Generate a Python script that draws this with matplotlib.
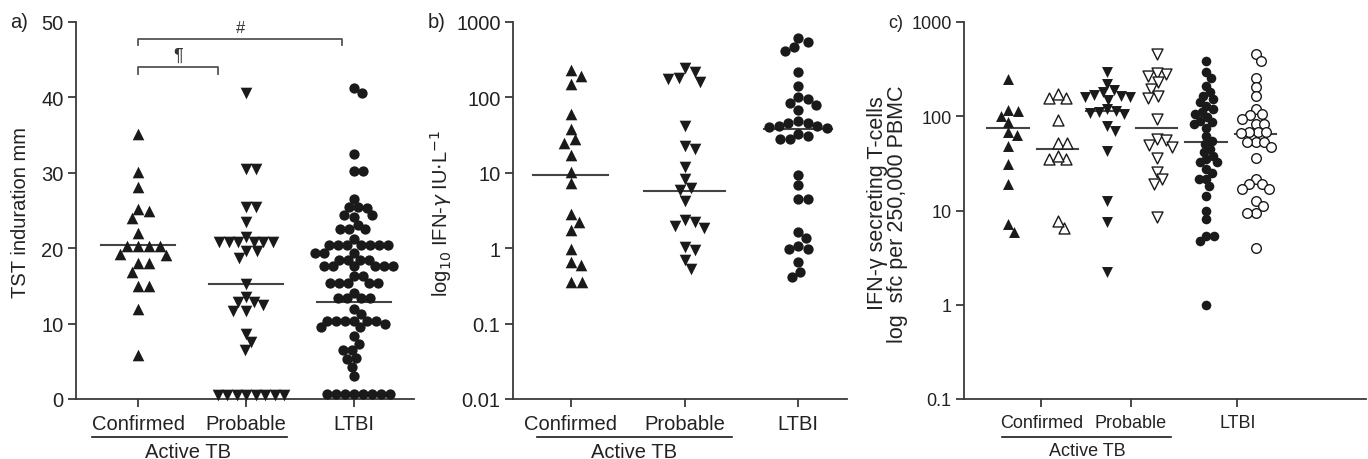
import numpy as np
import matplotlib
matplotlib.use("Agg")
import matplotlib.pyplot as plt
from matplotlib import font_manager
from matplotlib.ticker import FixedLocator, NullLocator

plt.rcParams['font.family'] = ['Liberation Sans', 'DejaVu Sans']

# panel c was squeezed sideways in the source figure -> narrow face if there is one
_names = {f.name for f in font_manager.fontManager.ttflist}
NARROW = 'Liberation Sans Narrow' if 'Liberation Sans Narrow' in _names else None

# ---- data ----
# a) TST induration (mm)
tst_confirmed = [35.2, 30.1, 28.1, 25.2, 25.0, 24.0, 22.0, 20.3, 20.3, 20.3, 20.3,
                 19.1, 19.2, 18.0, 18.0, 16.8, 15.0, 15.0, 12.0, 5.9]
tst_probable = [40.6, 30.5, 30.5, 25.5, 25.5, 23.5, 21.5, 20.8, 20.8, 20.8, 20.8,
                20.8, 20.8, 19.6, 19.6, 18.7, 15.3, 13.5, 12.8, 12.8, 12.5, 11.7,
                11.7, 8.6, 7.5, 6.5, 0.5, 0.5, 0.5, 0.5, 0.5, 0.5, 0.5, 0.5]
tst_ltbi = [41.2, 40.6, 32.5, 30.2, 30.2, 26.5, 25.3, 25.4, 25.4, 24.4, 24.4, 24.2,
            23.1, 22.5, 22.5, 22.6, 21.2, 20.4, 20.4, 20.4, 20.4, 20.4, 20.4, 20.4,
            19.4, 19.4, 19.4, 18.5, 18.5, 18.5, 18.5, 17.6, 17.6, 17.6, 17.6, 17.6,
            17.6, 16.3, 16.3, 15.4, 15.4, 15.4, 15.4, 15.4, 14.1, 13.4, 13.4, 13.4,
            13.4, 12.0, 11.3, 10.4, 10.4, 10.4, 10.4, 10.4, 10.4, 10.0, 9.5, 9.5,
            8.3, 7.3, 6.5, 6.5, 5.4, 5.3, 4.3, 3.1, 0.6, 0.6, 0.6, 0.6, 0.6, 0.6,
            0.6, 0.6]
tst_medians = [20.4, 15.3, 12.8]

# b) IFN-gamma IU/L
ifn_confirmed = [228, 195, 152, 61, 38, 27.7, 25, 17, 10.4, 7.3, 2.86, 2.26, 1.75,
                 0.98, 0.59, 0.65, 0.36, 0.36]
ifn_probable = [214, 178, 160, 182, 245, 42, 21, 23, 11.9, 8.3, 6.3, 5.9, 4.2, 2.4,
                2.0, 1.84, 2.26, 0.96, 1.03, 0.69, 0.53]
ifn_ltbi = [610, 460, 415, 548, 219, 143, 95, 79, 69, 85, 100, 49, 42, 45.6, 41.5,
            39, 40, 31, 28, 28, 33, 46, 9.3, 6.8, 4.5, 4.5, 1.66, 1.35, 0.98, 0.98,
            1.07, 0.66, 0.41, 0.49]
ifn_medians = [9.4, 5.8, 38]

# c) IFN-gamma secreting T-cells, sfc per 250,000 PBMC
sfc_conf_filled = [248, 115, 101, 117, 87, 68.5, 63, 48.7, 31, 19, 7.2, 5.96]
sfc_conf_open = [155, 155, 172, 91.5, 52, 52, 35, 35, 38, 6.5, 7.7]
sfc_prob_filled = [293, 218, 190, 180, 170, 165, 160, 160, 150, 120, 115, 112, 108,
                   105, 78, 70, 43, 12.6, 7.5, 2.2]
sfc_prob_open = [458, 281, 268, 288, 229, 194, 155, 163, 94, 57, 56, 49, 47, 36,
                 25.9, 21.5, 19, 8.5]
sfc_ltbi_filled = [388, 293, 255, 209, 179, 165, 152, 141, 130, 120, 112, 106, 98,
                   90, 86, 83, 75, 62, 55, 51, 45, 41.5, 38, 35, 32.6, 32.6, 27.6, 25,
                   21.6, 21.6, 18.3, 14.4, 10, 8.1, 5.4, 5.4, 4.8, 1.0]
sfc_ltbi_open = [458, 388, 253, 203, 163, 120, 106, 103, 94, 83, 83, 68, 68, 68, 67,
                 53, 53, 53, 47, 36.5, 21.6, 19, 19, 17, 17, 12.6, 11.2, 9.5, 9.5, 4.0]
sfc_medians = [75, 45, 115, 75, 53, 65]

categories = ['Confirmed', 'Probable', 'LTBI']

INK = '#1a1a1a'
AXC = '#3a3a3a'
TXT = '#222222'
W, H = 1368, 460


def px_axes(l, r, t, b):
    return [l / W, 1 - b / H, (r - l) / W, (b - t) / H]


def swarm(ax, x0, vals, d):
    """simple beeswarm in display pixels, returns data x positions"""
    vals = np.asarray(vals, float)
    pts = ax.transData.transform(np.column_stack([np.full(len(vals), x0), vals]))
    xc = pts[0, 0]
    ys = pts[:, 1]
    xs = np.zeros(len(vals))
    placed = []
    for i in np.argsort(-ys):
        y = ys[i]
        cands = [0.0]
        for px, py in placed:
            dy = y - py
            if abs(dy) < d:
                dx = np.sqrt(d * d - dy * dy)
                cands += [px - xc + dx, px - xc - dx]
        cands.sort(key=abs)
        for c in cands:
            if all((xc + c - px) ** 2 + (y - py) ** 2 >= d * d - 1e-6 for px, py in placed):
                xs[i] = xc + c
                break
        placed.append((xs[i], y))
    return ax.transData.inverted().transform(np.column_stack([xs, ys]))[:, 0]


def style(ax, size=14.5):
    for s in ['top', 'right']:
        ax.spines[s].set_visible(False)
    for s in ['left', 'bottom']:
        ax.spines[s].set_color(AXC)
        ax.spines[s].set_linewidth(1.3)
    ax.tick_params(direction='out', length=6, width=1.3, color=AXC,
                   labelsize=size, labelcolor=TXT)
    ax.tick_params(axis='y', pad=3)
    ax.tick_params(axis='x', pad=4.5)


def median(ax, x, y, half):
    ax.plot([x - half, x + half], [y, y], color='#444444', lw=1.5, zorder=3)


def active_tb(ax, x1, x2, xt, **kw):
    tr = ax.get_xaxis_transform()
    ax.plot([x1, x2], [-0.101, -0.101], color=INK, lw=1.2, transform=tr, clip_on=False)
    ax.text(xt, -0.114, 'Active TB', transform=tr, ha='center', va='top',
            color=TXT, **kw)


fig = plt.figure(figsize=(W / 100, H / 100), dpi=100, facecolor='white')

# ---------------- panel a ----------------
ax1 = fig.add_axes(px_axes(76, 414, 23, 400))
ax1.set_xlim(-0.574, 2.555)
ax1.set_ylim(0, 50)
style(ax1)
ax1.set_yticks([0, 10, 20, 30, 40, 50])
ax1.set_xticks([0, 1, 2])
ax1.set_xticklabels(categories)

xa = swarm(ax1, 0, tst_confirmed, 11)
ax1.scatter(xa, tst_confirmed, marker='^', s=70, color=INK, lw=0, zorder=4, clip_on=False)
xa = swarm(ax1, 1, tst_probable, 9.5)
ax1.scatter(xa, tst_probable, marker='v', s=70, color=INK, lw=0, zorder=4, clip_on=False)
xa = swarm(ax1, 2, tst_ltbi, 9)
ax1.scatter(xa, tst_ltbi, marker='o', s=55, color=INK, lw=0, zorder=4, clip_on=False)
for i, m in enumerate(tst_medians):
    median(ax1, i, m, 0.34)

# significance brackets
br = dict(color='#555555', lw=1.3, clip_on=False)
ax1.plot([0, 0, 1.89, 1.89], [46.9, 47.8, 47.8, 46.9], **br)
ax1.text(0.945, 48.3, '#', ha='center', va='bottom', fontsize=12, color='#333333')
ax1.plot([0, 0, 0.74, 0.74], [43.1, 44.0, 44.0, 43.1], **br)
ax1.text(0.37, 44.4, '¶', ha='center', va='bottom', fontsize=13, color='#333333')
active_tb(ax1, -0.43, 1.38, 0.46, fontsize=14.5)

# ---------------- panel b ----------------
ax2 = fig.add_axes(px_axes(513, 847, 23, 400))
ax2.set_yscale('log')
ax2.set_xlim(-0.51, 2.43)
ax2.set_ylim(0.01, 1000)
style(ax2)
yt = [0.01, 0.1, 1, 10, 100, 1000]
ax2.yaxis.set_major_locator(FixedLocator(yt))
ax2.yaxis.set_minor_locator(NullLocator())
ax2.set_yticklabels(['0.01', '0.1', '1', '10', '100', '1000'])
ax2.set_xticks([0, 1, 2])
ax2.set_xticklabels(categories)

xb = swarm(ax2, 0, ifn_confirmed, 11)
ax2.scatter(xb, ifn_confirmed, marker='^', s=70, color=INK, lw=0, zorder=4)
xb = swarm(ax2, 1, ifn_probable, 11)
ax2.scatter(xb, ifn_probable, marker='v', s=70, color=INK, lw=0, zorder=4)
xb = swarm(ax2, 2, ifn_ltbi, 10)
ax2.scatter(xb, ifn_ltbi, marker='o', s=55, color=INK, lw=0, zorder=4)
for i, (m, h) in enumerate(zip(ifn_medians, [0.33, 0.36, 0.3])):
    median(ax2, i, m, h)
active_tb(ax2, -0.30, 1.42, 0.555, fontsize=14.5)

# ---------------- panel c ----------------
cfont = dict(fontsize=14.5, family=NARROW) if NARROW else dict(fontsize=13)
ax3 = fig.add_axes(px_axes(964, 1366, 23, 400))
ax3.set_yscale('log')
ax3.set_xlim(-0.89, 7.23)
ax3.set_ylim(0.1, 1000)
style(ax3, cfont['fontsize'])
yt = [0.1, 1, 10, 100, 1000]
ax3.yaxis.set_major_locator(FixedLocator(yt))
ax3.yaxis.set_minor_locator(NullLocator())
ax3.set_yticklabels(['0.1', '1', '10', '100', '1000'], **cfont)
ax3.set_xticks([0.67, 2.48, 4.63])
ax3.set_xticklabels(categories, **cfont)

groups_c = [
    (sfc_conf_filled, '^', INK, 9.5),
    (sfc_conf_open, '^', 'white', 9.5),
    (sfc_prob_filled, 'v', INK, 9),
    (sfc_prob_open, 'v', 'white', 9.5),
    (sfc_ltbi_filled, 'o', INK, 7.5),
    (sfc_ltbi_open, 'o', 'white', 8.5),
]
for i, (vals, mk, fc, d) in enumerate(groups_c):
    xc = swarm(ax3, i, vals, d)
    size = 48 if mk == 'o' else 62
    ax3.scatter(xc, vals, marker=mk, s=size, facecolor=fc, edgecolor=INK,
                lw=1.0 if fc == 'white' else 0, zorder=4, clip_on=False)
    median(ax3, i, sfc_medians[i], 0.42)
active_tb(ax3, -0.12, 3.29, 1.6, **cfont)

# ---------------- labels ----------------
txt = dict(fontsize=14.5, color=TXT)
fig.text(21 / W, 1 - 213 / H, 'TST induration mm', rotation=90, ha='center', va='center', **txt)
fig.text(441 / W, 1 - 213 / H, r'log$_{10}$ IFN-$\gamma$ IU$\cdot$L$^{-1}$', rotation=90,
         ha='center', va='center', **txt)
fig.text(877 / W, 1 - 203 / H, 'IFN-γ secreting T-cells', rotation=90,
         ha='center', va='center', fontsize=15.5, color=TXT)
fig.text(898 / W, 1 - 214 / H, 'log  sfc per 250,000 PBMC', rotation=90,
         ha='center', va='center', fontsize=15.5, color=TXT)

fig.text(10 / W, 1 - 23 / H, 'a)', ha='left', va='center', **txt)
fig.text(428 / W, 1 - 23 / H, 'b)', ha='left', va='center', **txt)
ckw = dict(cfont)
ckw.pop('fontsize')
fig.text(888 / W, 1 - 23 / H, 'c)', ha='left', va='center', fontsize=cfont['fontsize'],
         color=TXT, **ckw)

fig.savefig('out.png', dpi=100, facecolor='white')
